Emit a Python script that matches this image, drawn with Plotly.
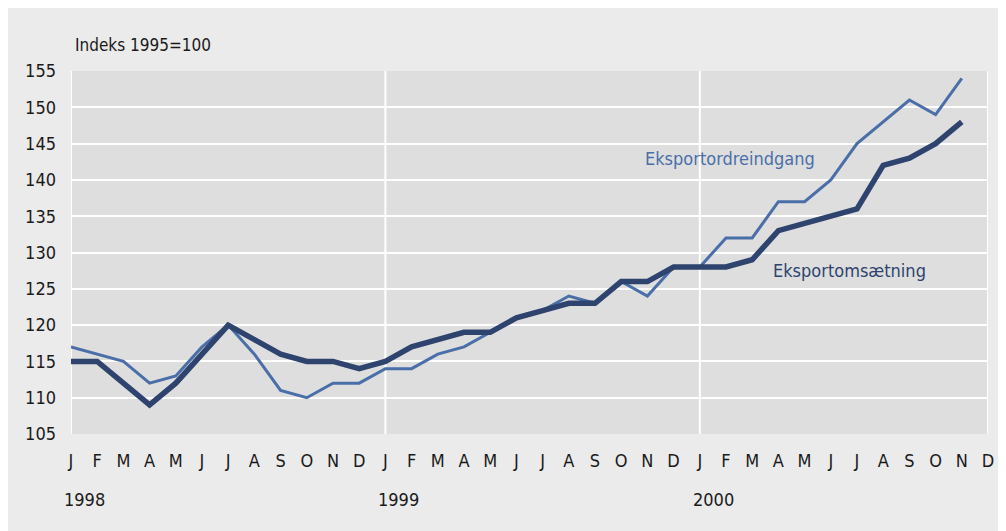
import plotly.graph_objects as go

months = ["J", "F", "M", "A", "M", "J", "J", "A", "S", "O", "N", "D"] * 3
years = ["1998", "1999", "2000"]

ordre = [117, 116, 115, 112, 113, 117, 120, 116, 111, 110, 112, 112,
         114, 114, 116, 117, 119, 121, 122, 124, 123, 126, 124, 128,
         128, 132, 132, 137, 137, 140, 145, 148, 151, 149, 154]
omsaetning = [115, 115, 112, 109, 112, 116, 120, 118, 116, 115, 115, 114,
              115, 117, 118, 119, 119, 121, 122, 123, 123, 126, 126, 128,
              128, 128, 129, 133, 134, 135, 136, 142, 143, 145, 148]

yticks = list(range(105, 156, 5))
FONT = "DejaVu Sans Condensed, Liberation Sans Narrow, Arial Narrow, sans-serif"
LIGHT = "#4a6fa8"
DARK = "#2e446e"

x = list(range(len(ordre)))
fig = go.Figure()
fig.add_trace(go.Scatter(x=x, y=ordre, mode="lines", name="Eksportordreindgang",
                         line=dict(color=LIGHT, width=3), showlegend=False))
fig.add_trace(go.Scatter(x=list(range(len(omsaetning))), y=omsaetning, mode="lines",
                         name="Eksportomsætning",
                         line=dict(color=DARK, width=5.5), showlegend=False))

fig.update_layout(
    width=1006, height=531,
    margin=dict(l=63, r=26, t=63, b=105),
    paper_bgcolor="#ebebeb", plot_bgcolor="#dedede",
    font=dict(family=FONT, size=18, color="#1a1a1a"),
    xaxis=dict(range=[0, 35], tickmode="array", tickvals=list(range(36)),
               ticktext=months, showgrid=False, zeroline=False,
               showline=False, ticks="", ticklabelstandoff=14,
               tickfont=dict(size=18)),
    yaxis=dict(range=[105, 155], tickmode="array", tickvals=yticks,
               showgrid=True, gridcolor="white", gridwidth=2, zeroline=False,
               showline=False, ticks="", ticklabelstandoff=14,
               tickfont=dict(size=18)),
)

# vertical year separators / borders
for xv in [0, 12, 24, 35]:
    fig.add_shape(type="line", x0=xv, x1=xv, y0=0, y1=1, xref="x", yref="y domain",
                  line=dict(color="white", width=2), layer="below")

for i, yr in enumerate(years):
    fig.add_annotation(x=i * 12, y=-0.18, xref="x", yref="paper", text=yr,
                       showarrow=False, xanchor="left", yanchor="middle",
                       xshift=-9, font=dict(size=18))

fig.add_annotation(x=0, y=1.0, xref="x", yref="paper", text="Indeks 1995=100",
                   showarrow=False, xanchor="left", yanchor="bottom",
                   xshift=2, yshift=14, font=dict(size=17))

fig.add_annotation(x=25.15, y=142.9, xref="x", yref="y", text="Eksportordreindgang",
                   showarrow=False, xanchor="center", yanchor="middle",
                   font=dict(size=18, color=LIGHT))
fig.add_annotation(x=29.7, y=127.55, xref="x", yref="y", text="Eksportomsætning",
                   showarrow=False, xanchor="center", yanchor="middle",
                   font=dict(size=18, color=DARK))

fig.write_html("out.html")
